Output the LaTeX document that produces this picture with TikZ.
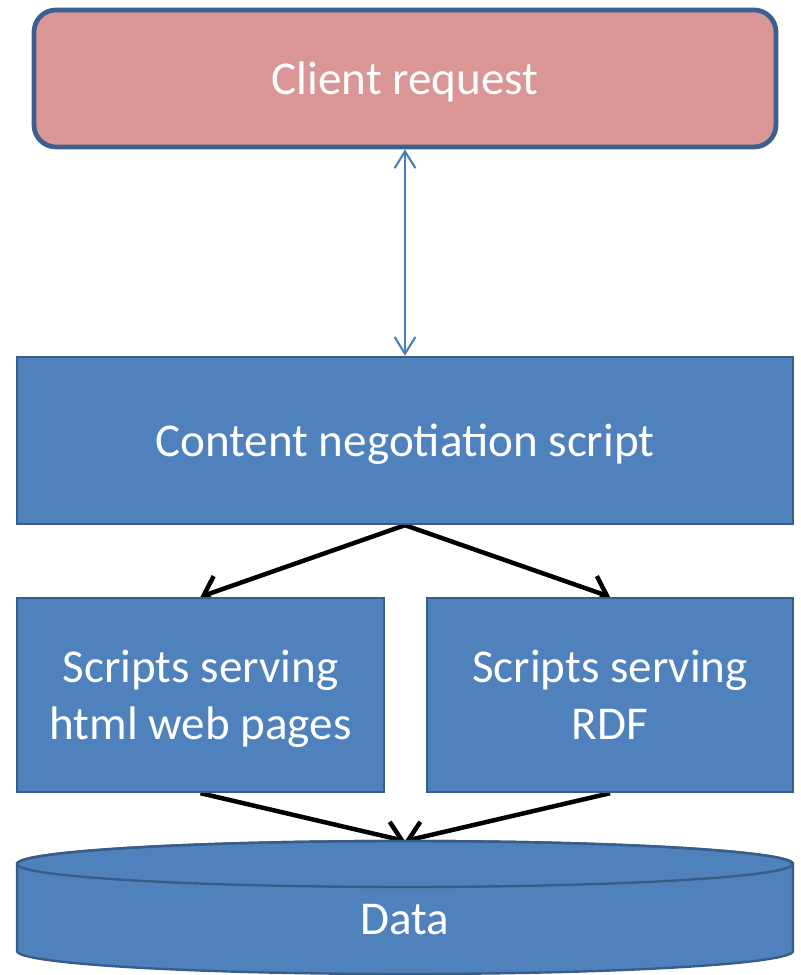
\documentclass[tikz,border=0pt]{standalone}
\usepackage{fontspec}
\setmainfont{Carlito}
\usepackage{tikz}
\usetikzlibrary{arrows.meta}
\pgfdeclarelayer{bg}
\pgfsetlayers{bg,main}
\definecolor{reqfill}{HTML}{D99694}
\definecolor{boxfill}{HTML}{4F81BD}
\definecolor{boxline}{HTML}{385D8A}
\definecolor{reqline}{HTML}{3B5F8E}
\definecolor{linkblue}{HTML}{4A7EBB}
\tikzset{
    every node/.style={inner sep=0mm, text=white, align=center, font=\fontsize{33.5}{41}\selectfont}
}
\tikzset{
    oneline/.style={text height=30pt, text depth=6.6pt},
    twoline/.style={text height=71pt, text depth=7pt},
    reqbox/.style={rectangle, rounded corners=0.55cm, fill=reqfill, draw=reqline, line width=3.4pt, oneline},
    stagebox/.style={rectangle, fill=boxfill, draw=boxline, line width=1.7pt},
    flow/.style={draw=black, line width=3.2pt, -{Straight Barb[length=4mm, width=7.6mm, line width=3.2pt]}},
    link/.style={draw=linkblue, line width=1.5pt, {Straight Barb[length=4.2mm, width=5.2mm]}-{Straight Barb[length=4.2mm, width=5.2mm]}}
}

\begin{document}
\begin{tikzpicture}
        \useasboundingbox (0cm, 0cm) rectangle (20cm, 24.375cm);
        \node (client) [reqbox, minimum width=18.55cm, minimum height=3.425cm] at (10.125000cm, 22.412500cm) {Client request};
        \node (neg) [stagebox, oneline, minimum width=19.400000cm, minimum height=4.175cm] at (10.125000cm, 13.362500cm) {Content negotiation script};
        \node (html) [stagebox, twoline, minimum width=9.175cm, minimum height=4.85cm] at (5.012500cm, 7.000000cm) {Scripts serving\\html web pages};
        \node (rdf) [stagebox, twoline, minimum width=9.150cm, minimum height=4.85cm] at (15.250000cm, 7.000000cm) {Scripts serving\\RDF};
        % data store
        \filldraw [fill=boxfill, draw=boxline, line width=1.7pt] (0.425cm, 2.775cm) -- (0.425cm, 0.600cm) arc (180:360:9.7cm and 0.575cm) -- (19.825cm, 2.775cm) arc (0:180:9.7cm and 0.575cm) -- cycle;
        \draw [boxline, line width=1.7pt] (10.125cm, 2.775cm) ellipse (9.7cm and 0.575cm);
        \node (data) [oneline] at (10.125000cm, 1.412500cm) {Data};
        \coordinate (dtop) at (10.125000cm, 3.350000cm);
        \begin{pgfonlayer}{bg}
                \draw (client.south) edge [link] (neg.north);
                \draw (neg.south) edge [flow] (html.north);
                \draw (neg.south) edge [flow] (rdf.north);
                \draw (html.south) edge [flow] (dtop);
                \draw (rdf.south) edge [flow] (dtop);
        \end{pgfonlayer}
\end{tikzpicture}
\end{document}
